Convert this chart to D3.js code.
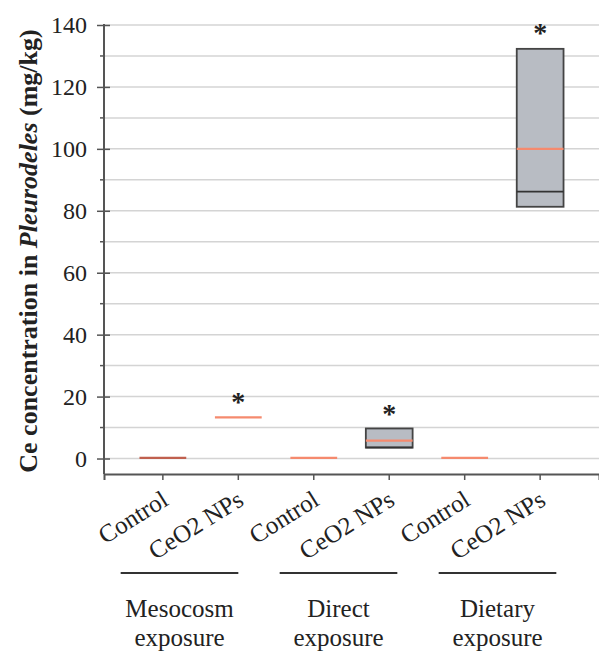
<!DOCTYPE html>
<html>
<head>
<meta charset="utf-8">
<script src="https://cdn.jsdelivr.net/npm/d3@7"></script>
<style>
  body { margin: 0; background: #fff; }
  text { font-family: "Liberation Serif", "Times New Roman", serif; fill: #222; }
</style>
</head>
<body>
<div id="chart"></div>
<script>
// categories along the x axis
var categories = ["Control", "CeO2 NPs", "Control", "CeO2 NPs", "Control", "CeO2 NPs"];
var groups = [["Mesocosm", "exposure"], ["Direct", "exposure"], ["Dietary", "exposure"]];

// box values (mg/kg), null = not drawn
var q1     = [0,   null, null, 3.5, null, 81.3];
var q3     = [0,   null, null, 9.7, null, 132.3];
var median = [0,   null, null, 3.6, null, 86.2];
var mean   = [0.2, 13.3, 0.2,  5.8, 0.2,  100];
// asterisk (significance) positions
var stars  = [null, 21, null, 17, null, 140];

var yTicks = [0, 20, 40, 60, 80, 100, 120, 140];

var W = 599, H = 651;
var mLeft = 104, mRight = 599, mTop = 25, mBottom = 474;

var svg = d3.select("#chart")
  .append("svg")
  .attr("width", W)
  .attr("height", H);

var x = d3.scaleBand()
  .domain(d3.range(categories.length))
  .range([mLeft, mRight])
  .paddingInner(0)
  .paddingOuter(0.28);

var y = d3.scaleLinear()
  .domain([-5, 140])
  .range([mBottom, mTop]);

var xg = d3.scaleBand()
  .domain(d3.range(groups.length))
  .range([100, 577]);

// gridlines every 10
svg.append("g")
  .selectAll("line")
  .data(d3.range(0, 141, 10))
  .enter().append("line")
  .attr("x1", mLeft).attr("x2", mRight)
  .attr("y1", function(d) { return y(d); })
  .attr("y2", function(d) { return y(d); })
  .attr("stroke", "#d4d4d4")
  .attr("stroke-width", 1.5);

// y axis
var yAxis = svg.append("g")
  .attr("transform", "translate(" + mLeft + ",0)")
  .call(d3.axisLeft(y).tickValues(yTicks).tickSize(7).tickPadding(10));
yAxis.select(".domain").remove();
yAxis.selectAll(".tick line").attr("x2", -7).attr("x1", 6).attr("stroke", "#555").attr("stroke-width", 1.5);
yAxis.selectAll(".tick text")
  .style("font-family", "Liberation Serif, serif")
  .style("font-size", "24px")
  .attr("fill", "#222");

// minor ticks
svg.append("g")
  .selectAll("line")
  .data(d3.range(10, 140, 20))
  .enter().append("line")
  .attr("x1", mLeft - 4).attr("x2", mLeft)
  .attr("y1", function(d) { return y(d); })
  .attr("y2", function(d) { return y(d); })
  .attr("stroke", "#555")
  .attr("stroke-width", 1.5);

svg.append("line")
  .attr("x1", mLeft).attr("x2", mLeft)
  .attr("y1", y(140) - 1).attr("y2", mBottom)
  .attr("stroke", "#555").attr("stroke-width", 2);

// x axis
var xAxis = svg.append("g")
  .attr("transform", "translate(0," + mBottom + ")")
  .call(d3.axisBottom(x).tickSize(6).tickFormat(function(i) { return categories[i]; }));
xAxis.select(".domain").attr("stroke", "#555").attr("stroke-width", 2);
xAxis.selectAll(".tick line").attr("stroke", "#555").attr("stroke-width", 1.5);
xAxis.selectAll(".tick text")
  .style("font-family", "Liberation Serif, serif")
  .style("font-size", "25px")
  .attr("fill", "#222")
  .attr("text-anchor", "end")
  .attr("y", 0)
  .attr("dy", 0)
  .attr("transform", "translate(7,30) rotate(-32)");

var bw = x.bandwidth() * 0.62;
var marks = svg.append("g");

categories.forEach(function(c, i) {
  var cx = x(i) + x.bandwidth() / 2;
  if (q1[i] !== null && q3[i] !== null && q3[i] > q1[i]) {
    marks.append("rect")
      .attr("x", cx - bw / 2)
      .attr("y", y(q3[i]))
      .attr("width", bw)
      .attr("height", y(q1[i]) - y(q3[i]))
      .attr("fill", "#b8bcc3")
      .attr("stroke", "#444")
      .attr("stroke-width", 1.8);
  }
  if (median[i] !== null && q3[i] > q1[i]) {
    marks.append("line")
      .attr("x1", cx - bw / 2).attr("x2", cx + bw / 2)
      .attr("y1", y(median[i])).attr("y2", y(median[i]))
      .attr("stroke", "#333").attr("stroke-width", 1.8);
  }
  if (mean[i] !== null) {
    var flat = q1[i] !== null && q3[i] === q1[i];
    marks.append("line")
      .attr("x1", cx - bw / 2).attr("x2", cx + bw / 2)
      .attr("y1", y(mean[i])).attr("y2", y(mean[i]))
      .attr("stroke", flat ? "#c0604e" : "#f58a6e")
      .attr("stroke-width", 2.2);
  }
  if (stars[i] !== null) {
    marks.append("text")
      .attr("x", cx)
      .attr("y", y(stars[i]))
      .attr("dy", "0.62em")
      .attr("text-anchor", "middle")
      .style("font-size", "28px")
      .style("font-weight", "bold")
      .text("*");
  }
});

// group underlines and labels
var grp = svg.append("g").selectAll("g")
  .data(groups)
  .enter().append("g");

grp.append("line")
  .attr("x1", function(d, i) { return xg(i) + xg.bandwidth() * 0.13; })
  .attr("x2", function(d, i) { return xg(i) + xg.bandwidth() * 0.87; })
  .attr("y1", 573).attr("y2", 573)
  .attr("stroke", "#333").attr("stroke-width", 2);

grp.append("text")
  .attr("x", function(d, i) { return xg(i) + xg.bandwidth() / 2; })
  .attr("y", 617)
  .attr("text-anchor", "middle")
  .style("font-size", "25px")
  .text(function(d) { return d[0]; });

grp.append("text")
  .attr("x", function(d, i) { return xg(i) + xg.bandwidth() / 2; })
  .attr("y", 646)
  .attr("text-anchor", "middle")
  .style("font-size", "25px")
  .text(function(d) { return d[1]; });

// y title
var title = svg.append("text")
  .attr("transform", "translate(37," + 251 + ") rotate(-90)")
  .attr("text-anchor", "middle")
  .style("font-size", "26px")
  .style("font-weight", "bold");
title.append("tspan").text("Ce concentration in ");
title.append("tspan").style("font-style", "italic").text("Pleurodeles");
title.append("tspan").text(" (mg/kg)");
</script>
</body>
</html>
